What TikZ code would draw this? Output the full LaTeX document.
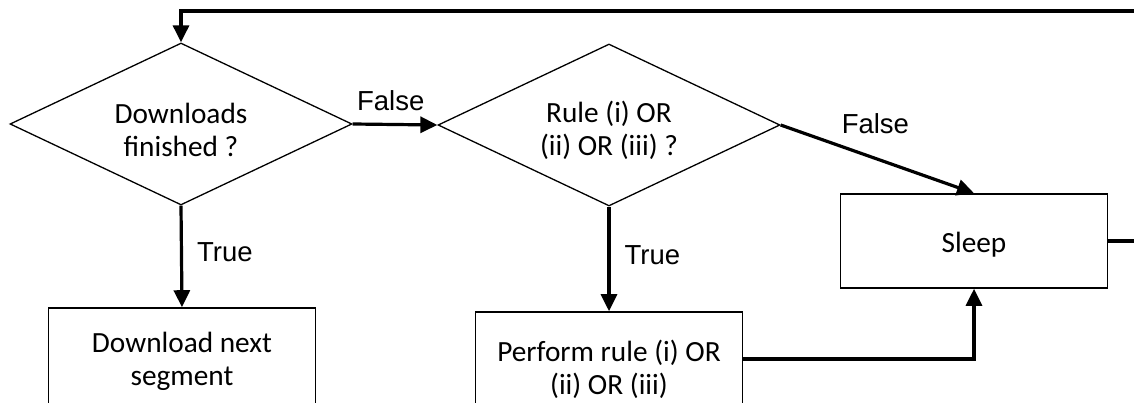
\documentclass[tikz,border=0pt]{standalone}
\usepackage{fontspec}
\usetikzlibrary{shapes.geometric, arrows.meta}
\newfontfamily\boxfont{Carlito}
\newfontfamily\lblfont{Liberation Sans}
\newcommand\lift{\rule{0pt}{32pt}}

\begin{document}
\begin{tikzpicture}[x=1pt, y=-1pt,
        dec/.style={diamond, draw, line width=1.3pt, aspect=2.1, inner sep=0pt,
                minimum width=342pt, minimum height=162pt, align=center,
                font=\boxfont\fontsize{29.3}{33}\selectfont},
        box/.style={rectangle, draw, line width=1.6pt, minimum width=267pt,
                align=center, font=\boxfont\fontsize{29.3}{33}\selectfont},
        flow/.style={line width=3.2pt, -{Triangle[length=17pt, width=16pt]}},
        lbl/.style={inner sep=0pt, font=\lblfont\fontsize{27.5}{33}\selectfont}]
        \useasboundingbox (0,0) rectangle (1134,403);
        \clip (0,0) rectangle (1134,403);
        \node[dec] (d1) at (181,124) {\lift Downloads\\finished ?};
        \node[dec] (d2) at (609,125) {\lift Rule (i) OR\\(ii) OR (iii) ?};
        \node[box, minimum height=106pt] (b1) at (182,361) {Download next\\segment};
        \node[box, minimum height=114pt] (b2) at (609,369) {Perform rule (i) OR\\(ii) OR (iii)};
        \node[box, minimum height=94pt, text height=28pt] (b3) at (974,241) {Sleep};
        \coordinate (c1) at (1150,11); % loop back, out of the frame
        \draw[flow] (b3.east) -| (c1) -| (d1.north);
        \draw[flow] (d1.east) -- node[lbl, pos=0.45, above=12pt] {False} (d2.west);
        \draw[flow] (d1.south) -- node[lbl, pos=0.46, right=14pt] {True} (b1.north);
        \draw[flow] (d2.south) -- node[lbl, pos=0.46, right=14pt] {True} (b2.north);
        \draw[flow] (d2.east) -- node[lbl, pos=0.49, above=23pt] {False} (b3.north);
        \draw[flow] ([yshift=10pt]b2.east) -| (b3.south);
\end{tikzpicture}
\end{document}
